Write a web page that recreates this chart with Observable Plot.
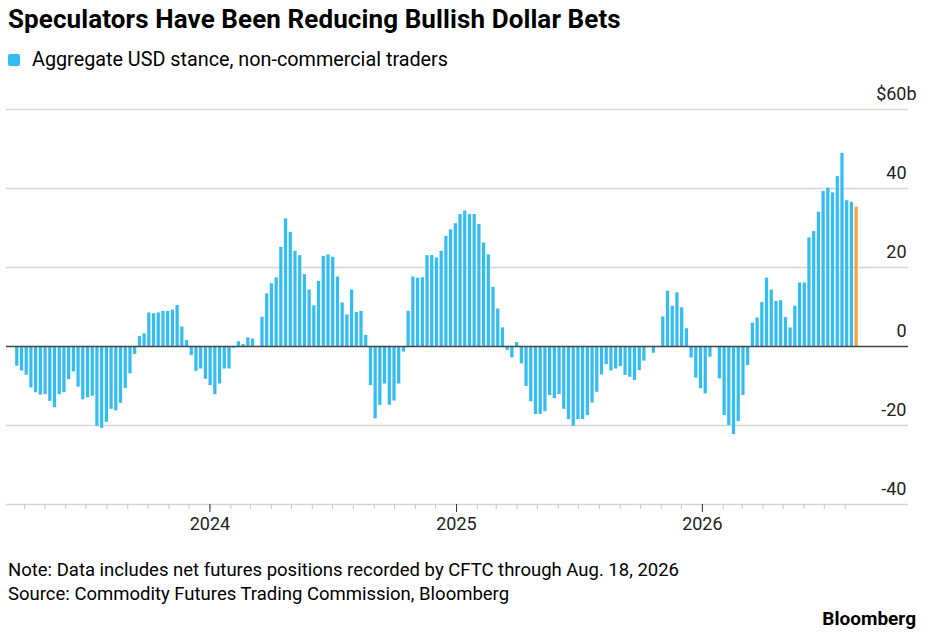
<!DOCTYPE html>
<html>
<head>
<meta charset="utf-8">
<script src="https://cdn.jsdelivr.net/npm/d3@7"></script>
<script src="https://cdn.jsdelivr.net/npm/@observablehq/plot@0.6"></script>
<style>
  body { margin: 0; background: #fff; font-family: Roboto, "Liberation Sans", sans-serif; color: #000; }
  #wrap { position: relative; width: 936px; height: 641px; overflow: hidden; }
  #title { position: absolute; left: 8px; top: 4px; font-size: 26px; line-height: 30px; font-weight: 700; letter-spacing: 0.1px; white-space: nowrap; }
  #legend { position: absolute; left: 8px; top: 48px; font-size: 19.8px; line-height: 24px; display: flex; align-items: center; white-space: nowrap; }
  #legend .sw { width: 12px; height: 12px; background: #33bdf2; border-radius: 2px; margin-right: 12px; }
  #chart { position: absolute; left: 0; top: 80px; }
  #note { position: absolute; left: 8px; top: 558px; font-size: 18.5px; line-height: 24px; white-space: nowrap; }
  #logo { position: absolute; right: 20px; top: 607px; font-size: 19px; line-height: 24px; font-weight: 700; }
</style>
</head>
<body>
<div id="wrap">
  <div id="title">Speculators Have Been Reducing Bullish Dollar Bets</div>
  <div id="legend"><span class="sw"></span><span>Aggregate USD stance, non-commercial traders</span></div>
  <div id="chart"></div>
  <div id="note">Note: Data includes net futures positions recorded by CFTC through Aug. 18, 2026<br>Source: Commodity Futures Trading Commission, Bloomberg</div>
  <div id="logo">Bloomberg</div>
</div>
<script>
// Weekly CFTC reports (Tuesdays), first report and count
const firstReport = "2023-03-21";
// Aggregate USD stance, non-commercial traders ($ billions), weekly
const usdStance = [
  -5.0, -6.2, -7.3, -10.5, -11.7, -12.3, -12.2, -13.9, -15.5, -12.2,
  -11.7, -8.4, -6.4, -10.3, -13.5, -13.0, -12.6, -20.2, -20.7, -19.2,
  -15.9, -16.3, -14.4, -10.6, -6.9, -2.0, 2.5, 3.2, 8.5, 8.3,
  8.5, 8.9, 8.9, 9.2, 10.4, 4.9, 1.5, -2.3, -6.3, -5.7,
  -8.3, -9.9, -12.2, -9.5, -5.7, -5.7, -0.4, 1.2, 0.5, 2.2,
  1.9, 0, 7.4, 13.3, 15.9, 17.4, 25.1, 32.3, 28.9, 24.1,
  23.0, 18.2, 14.3, 10.3, 16.5, 22.8, 23.2, 22.6, 17.6, 11.0,
  8.0, 14.3, 8.6, 8.9, 2.8, -9.9, -18.3, -14.9, -9.5, -14.9,
  -13.8, -9.5, -1.4, 8.9, 17.6, 17.3, 17.4, 23.0, 23.0, 22.4,
  24.1, 27.9, 29.5, 31.1, 33.4, 34.3, 33.4, 33.4, 30.9, 26.2,
  23.2, 15.0, 9.5, 4.7, -1.0, -2.9, 1.0, -4.4, -10.1, -14.0,
  -17.2, -17.2, -16.5, -12.4, -13.2, -12.2, -15.9, -18.5, -20.2, -18.5,
  -18.5, -17.5, -14.3, -11.6, -7.2, -4.6, -6.2, -5.7, -5.1, -7.3,
  -7.8, -8.6, -6.1, -3.7, -0.3, -1.7, 0, 7.5, 14.0, 10.2,
  13.6, 9.8, 4.5, -2.9, -8.0, -10.7, -12.0, -2.7, 0, -8.2,
  -17.5, -20.0, -22.3, -19.0, -12.4, -4.8, 5.9, 7.2, 11.1, 17.3,
  14.3, 11.4, 11.6, 7.3, 4.7, 10.2, 16.1, 16.1, 27.5, 29.1,
  34.0, 39.3, 40.1, 38.9, 43.0, 48.9, 36.9, 36.5, 35.3
];
const yTickValues = [60, 40, 20, 0, -20, -40];
const yTickLabels = ["$60", "40", "20", "0", "-20", "-40"];
const yUnitSuffix = "b";
const yearTicks = ["2024-01-01", "2025-01-01", "2026-01-01"];
const xDomain = ["2023-03-05", "2026-11-03"];

const start = new Date(firstReport);
const data = usdStance.map((v, i) => ({ date: d3.utcDay.offset(start, 7 * i), value: v, last: i === usdStance.length - 1 }));
const lastDate = data[data.length - 1].date;
const monthTicks = d3.utcMonth.range(d3.utcMonth.ceil(start), d3.utcDay.offset(lastDate, 1));
const halfBar = 2.4 * 864e5;

const blue = "#33bdf2";
const orange = "#f5a33a";

const chart = Plot.plot({
  width: 936,
  height: 470,
  marginTop: 29,
  marginBottom: 46,
  marginLeft: 6,
  marginRight: 28,
  style: { fontFamily: "Roboto, 'Liberation Sans', sans-serif", fontSize: "18px", color: "#222", background: "white" },
  x: { type: "utc", domain: xDomain.map(d => new Date(d)), label: null },
  y: { domain: [-40, 60], label: null, axis: null },
  marks: [
    Plot.ruleY(yTickValues.filter(v => v !== 0), { stroke: "#d6d6d6", strokeWidth: 1.3 }),
    Plot.rectY(data.filter(d => !d.last), {
      x1: d => new Date(+d.date - halfBar), x2: d => new Date(+d.date + halfBar),
      y1: 0, y2: "value", fill: blue
    }),
    Plot.rectY(data.filter(d => d.last), {
      x1: d => new Date(+d.date - halfBar), x2: d => new Date(+d.date + halfBar),
      y1: 0, y2: "value", fill: orange
    }),
    Plot.ruleY([0], { stroke: "#444", strokeWidth: 1.5 }),
    Plot.axisX({ ticks: monthTicks, tickSize: 5, tickFormat: () => "", stroke: "#c8c8c8", label: null }),
    Plot.axisX({ ticks: yearTicks.map(d => new Date(d)), tickSize: 8, tickPadding: 5, tickFormat: "%Y", stroke: "#333", fill: "#222", fontSize: 18, label: null }),
    Plot.text(yTickValues, {
      y: d => d, text: (d, i) => yTickLabels[i], frameAnchor: "right", textAnchor: "end",
      dx: -2, dy: -15, fontSize: 18, fill: "#222"
    }),
    Plot.text([yTickValues[0]], {
      y: d => d, text: () => yUnitSuffix, frameAnchor: "right", textAnchor: "start",
      dx: -2, dy: -15, fontSize: 18, fill: "#222"
    })
  ]
});
document.getElementById("chart").appendChild(chart);
</script>
</body>
</html>
